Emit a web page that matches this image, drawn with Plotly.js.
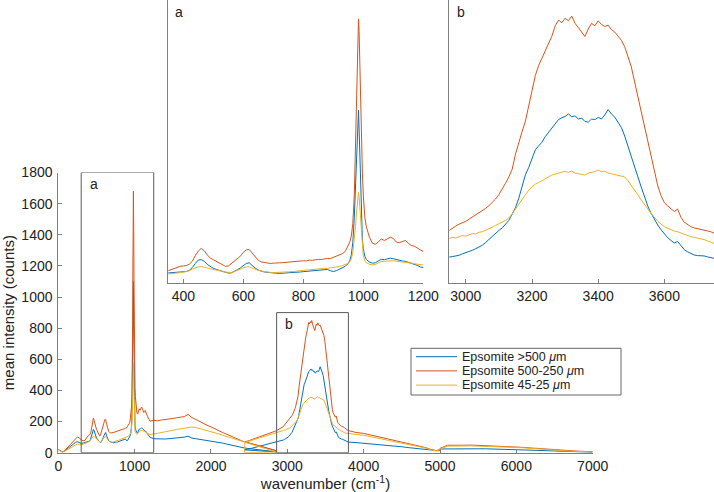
<!DOCTYPE html>
<html>
<head>
<meta charset="utf-8">
<script src="https://cdn.plot.ly/plotly-3.0.1.min.js"></script>
<style>html,body{margin:0;padding:0;background:#fff;}#chart{width:714px;height:492px;}</style>
</head>
<body>
<div id="chart"></div>
<script>
// ---------- DATA ----------
// Window 1 of the spectra (low wavenumber part)
const wnA = [0,25,50,75,100,125,150,175,200,225,250,275,300,325,350,
360,370,380,390,400,410,420,430,440,450,460,470,480,490,500,510,520,530,540,550,560,570,580,590,600,610,620,630,640,650,660,670,680,690,700,710,720,730,740,750,760,770,780,790,800,810,820,830,840,850,860,870,880,890,900,910,920,930,940,
950,955,960,965,970,974,977,980,982,984,986,988,991,994,997,1000,1005,1010,1015,1020,
1030,1040,1050,1060,1070,1080,1090,1100,1110,1120,1130,1140,1150,1160,1170,1180,1190,1200,
1250,1300,1350,1400,1450,1500,1550,1600,1650,1700,1750,1800,1850,1900,1950,2000,2050,2100,2150,2200,2250,2300,2350,2400,
2440,2860];

const blueA = [20,12,5,8,18,28,40,50,58,66,71,66,60,62,66,
69,71,70,72,73,75,82,100,125,148,150,140,120,105,95,88,81,75,70,65,66,74,86,98,112,126,130,112,96,84,77,72,70,67,65,64,63,66,65,67,68,66,70,72,74,76,79,82,84,86,88,90,88,80,75,80,88,96,108,
127,145,180,260,420,640,840,1000,1080,1100,980,820,560,380,275,220,172,152,141,136,
128,130,142,152,150,155,160,156,150,146,142,140,134,128,122,114,104,100,
90,88,87,88,90,92,93,96,100,106,94,90,86,82,80,78,74,68,62,56,50,44,38,33,
30,5];

const redA = [20,12,6,9,22,38,52,65,78,90,101,96,82,77,80,
88,97,105,108,110,113,121,140,175,205,222,206,180,160,150,140,131,120,108,110,125,138,152,172,196,213,214,190,165,146,136,131,127,126,128,127,130,131,133,132,136,139,137,141,143,142,147,146,150,152,151,156,158,157,164,170,178,188,203,
245,262,300,380,560,850,1180,1450,1610,1680,1600,1420,1120,870,700,560,420,360,320,295,
255,248,262,282,272,280,293,285,262,258,264,272,255,240,236,222,212,202,
208,205,210,212,215,220,224,228,232,246,226,214,200,190,176,166,153,143,130,120,108,97,87,77,
70,12];

const yellowA = [18,10,4,7,14,22,32,40,47,53,56,53,50,54,58,
61,64,66,68,71,74,80,90,98,104,106,103,97,92,89,85,80,76,71,68,69,74,82,90,99,105,104,96,88,82,78,74,71,69,68,68,69,70,72,73,73,75,78,80,83,85,88,89,91,92,93,95,95,97,99,102,106,112,118,
127,138,155,195,270,360,440,520,565,578,550,490,390,295,225,175,145,130,124,120,
117,120,130,138,140,142,144,143,140,138,138,136,132,128,124,120,117,116,
120,124,129,134,139,144,149,154,158,163,165,162,156,150,143,137,129,121,113,105,97,89,81,74,
68,4];

// Window 2/3 of the spectra (high wavenumber part)
const wnB = [2440,2445,2500,2550,2600,2650,2700,2750,2800,2850,2900,
2950,2960,2970,2980,2990,3000,3010,3020,3030,3040,
3050,3060,3070,3080,3090,3100,3110,3120,3130,3140,
3150,3160,3170,3180,3190,3200,3210,3220,3230,3240,
3250,3260,3270,3280,3290,3300,3310,3320,3330,3340,
3350,3360,3370,3380,3390,3400,3410,3420,3430,3440,
3450,3460,3470,3480,3490,3500,3510,3520,3530,3540,
3550,3560,3570,3580,3590,3600,3610,3620,3630,3640,
3650,3660,3670,3680,3690,3700,3710,3720,3730,3740,
3750,
3800,3900,4000,4100,4200,4300,4400,4500,4600,4700,4800,4900,4950,4990,
5000,5100,5200,5300,5400,5500,5600,5700,5800,5900,6000,6100,6200,6300,6400,6500,6600,6700,6800,6900,7000];

const blueB = [18,20,24,30,37,44,50,56,62,68,76,
82,85,87,89,94,97,100,105,110,115,
121,130,140,151,160,168,176,188,200,220,
240,270,310,345,368,395,424,437,448,466,
480,492,505,520,526,530,538,529,532,522,
525,514,512,522,520,527,522,535,552,538,
528,512,495,468,434,402,370,338,306,275,
245,222,202,185,170,157,145,136,128,133,
118,107,100,94,90,88,88,87,84,82,
79,
68,65,61,57,53,48,43,38,32,26,19,13,11,12,
24,25,26,25,26,25,25,24,23,22,21,19,17,15,13,11,9,7,5,4,3];

const redB = [68,70,78,86,94,103,112,121,131,140,152,
168,176,182,188,192,197,204,211,216,225,
231,238,247,256,268,282,299,318,338,362,
410,448,482,515,568,612,660,692,715,738,
760,785,818,836,828,842,834,849,826,812,
797,784,808,826,818,834,822,816,820,806,
798,784,772,752,722,688,640,592,545,498,
446,395,350,310,278,256,246,238,228,236,
210,194,186,180,176,174,170,170,166,164,
159,
142,130,124,113,103,92,82,71,60,47,34,18,13,20,
28,48,50,48,49,47,46,45,42,40,38,34,30,26,22,18,15,12,10,8,6];

const yellowB = [0,66,74,81,88,96,103,110,118,126,135,
143,146,144,148,152,150,155,158,157,162,
164,168,172,178,184,189,194,200,208,220,
236,252,268,283,296,306,315,320,326,332,
340,344,347,350,352,356,352,357,350,348,
345,344,350,352,355,360,354,356,350,348,
346,343,342,338,326,312,297,281,265,249,
236,222,208,197,188,180,175,170,166,164,
160,155,151,148,146,144,141,139,135,131,
127,
125,117,112,102,93,84,75,65,55,44,31,16,12,18,
25,42,44,43,44,42,41,40,38,36,34,31,27,23,20,16,13,10,8,6,5];

const seriesNames = ['Epsomite &gt;500 <i>μ</i>m', 'Epsomite 500-250 <i>μ</i>m', 'Epsomite 45-25 <i>μ</i>m'];
const seriesColors = ['#0072BD', '#D95319', '#EDB120'];

// Zoom windows marked on the main chart
const boxA = {x: [300, 1250], y: [0, 1800], label: 'a'};
const boxB = {x: [2860, 3800], y: [0, 900], label: 'b'};

// ---------- BUILD ----------
const wn = wnA.concat(wnB);
const ys = [blueA.concat(blueB), redA.concat(redB), yellowA.concat(yellowB)];

const traces = [];
const axesPairs = [['x','y'], ['x2','y2'], ['x3','y3']];
axesPairs.forEach(function(p) {
  ys.forEach(function(y, i) {
    traces.push({
      type: 'scatter', mode: 'lines', x: wn, y: y,
      xaxis: p[0], yaxis: p[1], name: seriesNames[i],
      line: {color: seriesColors[i], width: 1},
      showlegend: false, hoverinfo: 'skip'
    });
  });
});

const W = 714, H = 492;
const axisGray = '#808080';
const baseAxis = {
  showline: true, linecolor: axisGray, linewidth: 1, mirror: false,
  showgrid: false, zeroline: false, ticks: 'inside', ticklen: 4,
  tickcolor: axisGray, tickfont: {size: 14, color: '#222'}
};

function px(x) { return x / W; }
function py(y) { return 1 - y / H; }

const shapes = [boxA, boxB].map(function(b) {
  return {type: 'rect', xref: 'x', yref: 'y', x0: b.x[0], x1: b.x[1], y0: b.y[0], y1: b.y[1],
          line: {color: '#5a5a5a', width: 1}, fillcolor: 'rgba(0,0,0,0)'};
});

const annotations = [
  {xref: 'x', yref: 'y', x: 388, y: 1727, text: boxA.label, showarrow: false, xanchor: 'left', yanchor: 'middle', font: {size: 14, color: '#222'}},
  {xref: 'x', yref: 'y', x: 2937, y: 827, text: boxB.label, showarrow: false, xanchor: 'left', yanchor: 'middle', font: {size: 14, color: '#222'}},
  {xref: 'x2 domain', yref: 'y2 domain', x: 0.02, y: 0.958, text: boxA.label, showarrow: false, xanchor: 'left', yanchor: 'middle', font: {size: 14, color: '#222'}},
  {xref: 'x3 domain', yref: 'y3 domain', x: 0.022, y: 0.958, text: boxB.label, showarrow: false, xanchor: 'left', yanchor: 'middle', font: {size: 14, color: '#222'}}
];

// Legend (box, line samples, labels) in paper coordinates
shapes.push({type: 'rect', xref: 'paper', yref: 'paper', x0: px(411), x1: px(621), y0: py(395), y1: py(348.3),
             line: {color: '#666', width: 1}, fillcolor: 'white'});
seriesNames.forEach(function(nm, i) {
  const rowY = 356.7 + i * 14.2;
  shapes.push({type: 'line', xref: 'paper', yref: 'paper', x0: px(416), x1: px(457), y0: py(rowY), y1: py(rowY),
               line: {color: seriesColors[i], width: 1}});
  annotations.push({xref: 'paper', yref: 'paper', x: px(459.5), y: py(rowY), text: nm, showarrow: false,
                    xanchor: 'left', yanchor: 'middle', font: {size: 12.5, color: '#222'}});
});

const layout = {
  width: W, height: H,
  margin: {l: 0, r: 0, t: 0, b: 0},
  paper_bgcolor: 'white', plot_bgcolor: 'white',
  font: {family: '"Liberation Sans", Arial, Helvetica, sans-serif', size: 14, color: '#222'},
  showlegend: false,
  xaxis: Object.assign({}, baseAxis, {domain: [px(58.3), px(592.7)], range: [0, 7000], dtick: 1000, anchor: 'y',
    title: {text: 'wavenumber (cm<sup>-1</sup>)', font: {size: 15, color: '#222'}, standoff: 4}}),
  yaxis: Object.assign({}, baseAxis, {domain: [py(452.7), py(172.5)], range: [0, 1800], dtick: 200, anchor: 'x',
    ticklabelstandoff: 2,
    title: {text: 'mean intensity (counts)', font: {size: 15, color: '#222'}, standoff: 4}}),
  xaxis2: Object.assign({}, baseAxis, {domain: [px(168.3), px(423.3)], range: [350, 1200], dtick: 200, anchor: 'y2'}),
  yaxis2: Object.assign({}, baseAxis, {domain: [py(283.3), 1], range: [0, 1800], anchor: 'x2', ticks: '', showticklabels: false}),
  xaxis3: Object.assign({}, baseAxis, {domain: [px(449.3), 1], range: [2950, 3750], dtick: 200, anchor: 'y3'}),
  yaxis3: Object.assign({}, baseAxis, {domain: [py(283.3), 1], range: [0, 900], anchor: 'x3', ticks: '', showticklabels: false}),
  shapes: shapes,
  annotations: annotations
};

Plotly.newPlot('chart', traces, layout, {staticPlot: true, displayModeBar: false});
</script>
</body>
</html>
